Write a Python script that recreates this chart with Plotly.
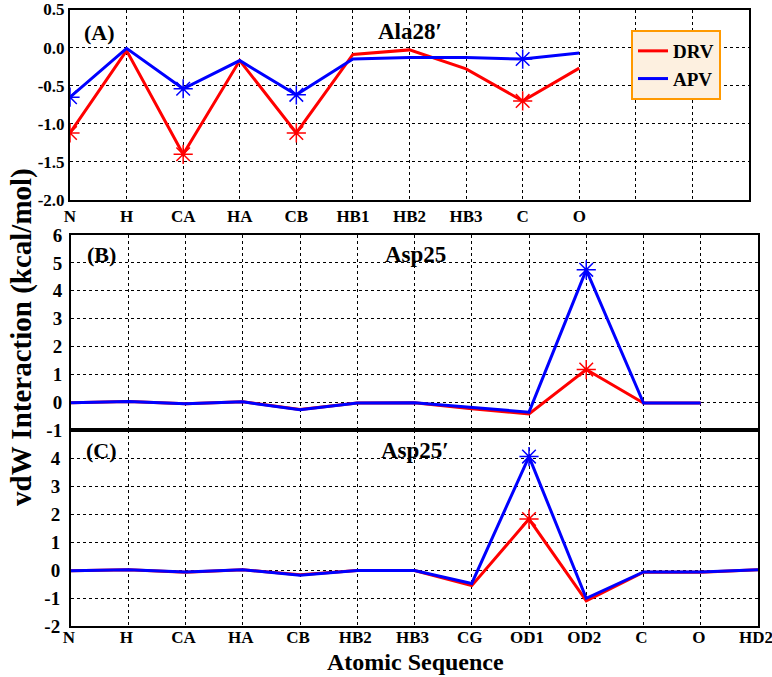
import plotly.graph_objects as go

# atom names per residue
atoms_ala28 = ["N", "H", "CA", "HA", "CB", "HB1", "HB2", "HB3", "C", "O"]
atoms_asp25 = ["N", "H", "CA", "HA", "CB", "HB2", "HB3", "CG", "OD1", "OD2", "C", "O"]
atoms_asp25p = ["N", "H", "CA", "HA", "CB", "HB2", "HB3", "CG", "OD1", "OD2", "C", "O", "HD2"]

# vdW interaction (kcal/mol)
ala28_drv = [-1.12, -0.04, -1.40, -0.17, -1.12, -0.09, -0.03, -0.28, -0.70, -0.27]
ala28_apv = [-0.65, -0.01, -0.54, -0.17, -0.62, -0.15, -0.13, -0.13, -0.15, -0.07]
asp25_drv = [-0.02, 0.02, -0.06, 0.01, -0.26, -0.03, -0.02, -0.24, -0.42, 1.17, -0.03, -0.03]
asp25_apv = [-0.02, 0.02, -0.06, 0.01, -0.27, -0.03, -0.02, -0.18, -0.36, 4.75, -0.03, -0.03]
asp25p_drv = [-0.03, 0.01, -0.08, 0.01, -0.17, -0.02, -0.02, -0.56, 1.82, -1.10, -0.08, -0.08, 0.01]
asp25p_apv = [-0.03, 0.01, -0.07, 0.01, -0.19, -0.02, -0.02, -0.48, 4.05, -1.01, -0.07, -0.07, 0.01]

# points drawn with a star marker
ala28_marked = ["N", "CA", "CB", "C"]
asp25_marked = ["OD2"]
asp25p_marked = ["OD1"]

RED = "#ff0000"
BLUE = "#0000ff"
FONT = "Liberation Serif"
n_slots = len(atoms_asp25p)


def add_series(fig, atoms, values, marked, color, name, axis, legend):
    xs = list(range(len(atoms)))
    fig.add_trace(go.Scatter(
        x=xs, y=values, mode="lines", name=name,
        line=dict(color=color, width=3),
        xaxis="x" + axis, yaxis="y" + axis, showlegend=legend,
    ))
    idx = [i for i, a in enumerate(atoms) if a in marked]
    fig.add_trace(go.Scatter(
        x=idx, y=[values[i] for i in idx], mode="markers", name=name,
        marker=dict(symbol="asterisk-open", size=16, color=color,
                    line=dict(color=color, width=1.5)),
        xaxis="x" + axis, yaxis="y" + axis, showlegend=False,
    ))


fig = go.Figure()
add_series(fig, atoms_ala28, ala28_drv, ala28_marked, RED, "DRV", "", True)
add_series(fig, atoms_ala28, ala28_apv, ala28_marked, BLUE, "APV", "", True)
add_series(fig, atoms_asp25, asp25_drv, asp25_marked, RED, "DRV", "2", False)
add_series(fig, atoms_asp25, asp25_apv, asp25_marked, BLUE, "APV", "2", False)
add_series(fig, atoms_asp25p, asp25p_drv, asp25p_marked, RED, "DRV", "3", False)
add_series(fig, atoms_asp25p, asp25p_apv, asp25p_marked, BLUE, "APV", "3", False)

W, H = 772, 677


def px(v):
    return v / W


def py(v):
    return 1 - v / H


def bold(size):
    return dict(family=FONT, size=size, color="black", weight="bold")


common = dict(showline=True, mirror=True, linecolor="black", linewidth=2,
              showgrid=True, gridcolor="black", gridwidth=1, griddash="dot",
              zeroline=False, ticks="", automargin=False,
              ticklabeloverflow="allow", tickfont=bold(17))

slots = list(range(n_slots))
ya_vals = [0.5, 0.0, -0.5, -1.0, -1.5, -2.0]
yb_vals = [6, 5, 4, 3, 2, 1, 0, -1]
yc_vals = [4, 3, 2, 1, 0, -1, -2]

fig.update_layout(
    template="none",
    width=W, height=H,
    margin=dict(l=0, r=0, t=0, b=0, autoexpand=False),
    paper_bgcolor="white", plot_bgcolor="white",
    xaxis=dict(common, domain=[px(70), px(749)], range=[0, n_slots - 1],
               tickvals=slots,
               ticktext=atoms_ala28 + [""] * (n_slots - len(atoms_ala28)),
               anchor="y"),
    yaxis=dict(common, domain=[py(200), py(9.5)], range=[-2.0, 0.5],
               tickvals=ya_vals, ticktext=[f"{v:.1f}" for v in ya_vals],
               anchor="x"),
    xaxis2=dict(common, domain=[px(71), px(758)], range=[0, n_slots - 1],
                tickvals=slots, showticklabels=False, anchor="y2"),
    yaxis2=dict(common, domain=[py(430), py(235)], range=[-1, 6],
                tickvals=yb_vals, ticktext=[str(v) for v in yb_vals],
                tickfont=bold(19), anchor="x2", ticklabelstandoff=3),
    xaxis3=dict(common, domain=[px(71), px(758)], range=[0, n_slots - 1],
                tickvals=slots, ticktext=atoms_asp25p, anchor="y3",
                ticklabelstandoff=-5, ticklabelshift=-2),
    yaxis3=dict(common, domain=[py(626), py(430)], range=[-2, 5],
                tickvals=yc_vals, ticktext=[str(v) for v in yc_vals],
                tickfont=bold(19), anchor="x3", ticklabelstandoff=5),
    legend=dict(x=px(631), y=py(30), xanchor="left", yanchor="top",
                bgcolor="#fdf0e0", bordercolor="#ff9900", borderwidth=2,
                font=bold(19), itemwidth=30, tracegroupgap=0),
)

labels = [
    ("(A)", 100, 33, 22), ("Ala28\u2032", 410, 32, 23),
    ("(B)", 101, 255, 22), ("Asp25", 415, 255, 23),
    ("(C)", 101, 450, 22), ("Asp25\u2032", 415, 450, 23),
    ("Atomic Sequence", 415, 662, 24),
]
for text, x, y, size in labels:
    fig.add_annotation(text=text, x=px(x), y=py(y), xref="paper", yref="paper",
                       xanchor="center", yanchor="middle", showarrow=False,
                       font=bold(size))

fig.add_annotation(text="vdW Interaction (kcal/mol)", x=px(22), y=py(337),
                   xref="paper", yref="paper", xanchor="center", yanchor="middle",
                   showarrow=False, textangle=-90, font=bold(29))

# the page body has a default 8px margin; drop it so the figure sits at 0,0
fig.write_html("out.html", config={"displayModeBar": False},
               post_script="document.body.style.margin='0';document.body.style.overflow='hidden';")
